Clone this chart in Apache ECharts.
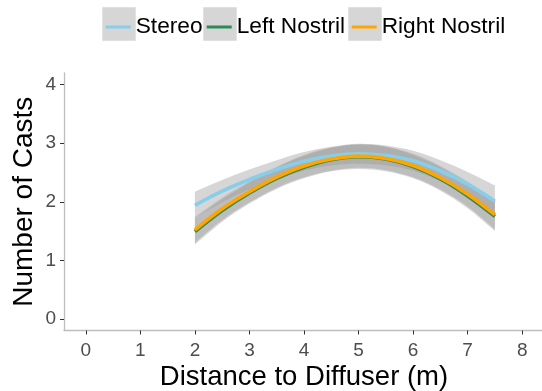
<!DOCTYPE html>
<html>
<head>
<meta charset="utf-8">
<script src="https://cdn.jsdelivr.net/npm/echarts@6/dist/echarts.min.js"></script>
<style>
html,body{margin:0;padding:0;background:#fff;}
#chart{width:542px;height:391px;}
</style>
</head>
<body>
<div id="chart"></div>
<script>
// Data
const distances = [2, 2.5, 3, 3.5, 4, 4.5, 5, 5.5, 6, 6.5, 7, 7.5];
const stereo       = [1.94, 2.18, 2.38, 2.55, 2.69, 2.78, 2.82, 2.79, 2.70, 2.53, 2.30, 2.01];
const leftNostril  = [1.49, 1.85, 2.15, 2.40, 2.59, 2.72, 2.77, 2.73, 2.60, 2.39, 2.10, 1.75];
const rightNostril = [1.52, 1.88, 2.17, 2.42, 2.61, 2.73, 2.78, 2.74, 2.62, 2.41, 2.13, 1.78];
// half-widths of the grey confidence ribbons
const stereoSE = [0.23, 0.19, 0.17, 0.16, 0.16, 0.16, 0.17, 0.17, 0.17, 0.18, 0.21, 0.27];
const leftSE   = [0.22, 0.19, 0.18, 0.18, 0.19, 0.20, 0.21, 0.21, 0.20, 0.20, 0.21, 0.25];
const rightSE  = [0.22, 0.19, 0.18, 0.18, 0.19, 0.20, 0.20, 0.20, 0.20, 0.20, 0.21, 0.25];
const xTicks = [0, 1, 2, 3, 4, 5, 6, 7, 8];
const yTicks = [0, 1, 2, 3, 4];
const seriesNames = ['Stereo', 'Left Nostril', 'Right Nostril'];

const FONT = 'Liberation Sans, Arial, sans-serif';
const groups = [
  {name: seriesNames[0], vals: stereo, se: stereoSE, color: '#87CEEB'},
  {name: seriesNames[1], vals: leftNostril, se: leftSE, color: '#2E8B57'},
  {name: seriesNames[2], vals: rightNostril, se: rightSE, color: '#FFA500'}
];
const SMOOTH = 0.35;

// Catmull-Rom style smooth path through pixel points
function smoothSeg(pts, moveFirst) {
  let d = (moveFirst ? 'M' : 'L') + pts[0][0] + ' ' + pts[0][1];
  for (let i = 0; i < pts.length - 1; i++) {
    const p0 = pts[Math.max(i - 1, 0)], p1 = pts[i], p2 = pts[i + 1], p3 = pts[Math.min(i + 2, pts.length - 1)];
    const t = 1 / 6;
    const c1 = [p1[0] + (p2[0] - p0[0]) * t, p1[1] + (p2[1] - p0[1]) * t];
    const c2 = [p2[0] - (p3[0] - p1[0]) * t, p2[1] - (p3[1] - p1[1]) * t];
    d += 'C' + c1[0] + ' ' + c1[1] + ' ' + c2[0] + ' ' + c2[1] + ' ' + p2[0] + ' ' + p2[1];
  }
  return d;
}

const series = [];
groups.forEach((g, k) => {
  series.push({
    name: g.name + ' band', type: 'custom', silent: true,
    coordinateSystem: 'cartesian2d',
    data: distances.map((x, i) => [x, g.vals[i] - g.se[i], g.vals[i] + g.se[i]]),
    encode: {x: 0, y: [1, 2]},
    renderItem: function (params, api) {
      if (params.dataIndex !== 0) return null;
      const up = [], lo = [];
      for (let i = 0; i < distances.length; i++) {
        up.push(api.coord([distances[i], g.vals[i] + g.se[i]]));
        lo.push(api.coord([distances[i], g.vals[i] - g.se[i]]));
      }
      lo.reverse();
      const d = smoothSeg(up, true) + smoothSeg(lo, false) + 'Z';
      return {type: 'path', shape: {pathData: d}, style: {fill: 'rgba(153,153,153,0.4)'}};
    }
  });
  series.push({
    name: g.name, type: 'line', symbol: 'none', smooth: SMOOTH,
    color: g.color, itemStyle: {color: g.color},
    lineStyle: {color: g.color, width: 3.6},
    data: distances.map((x, i) => [x, g.vals[i]])
  });
});

const legendLefts = [100.7, 201.7, 346.7];
const legends = seriesNames.map((n, i) => ({
  left: legendLefts[i], top: 9, orient: 'horizontal',
  data: [n], icon: 'rect', itemWidth: 25, itemHeight: 3,
  selectedMode: false, z: 10,
  textStyle: {fontSize: 22.7, color: '#000', fontFamily: FONT, lineHeight: 26}
}));

const chart = echarts.init(document.getElementById('chart'));
chart.setOption({
  animation: false,
  backgroundColor: '#fff',
  legend: legends,
  graphic: [
    {type: 'rect', shape: {x: 102.3, y: 7.3, width: 33.4, height: 33.4}, style: {fill: '#D6D6D6'}, z: 0},
    {type: 'rect', shape: {x: 203.3, y: 7.3, width: 33.4, height: 33.4}, style: {fill: '#D6D6D6'}, z: 0},
    {type: 'rect', shape: {x: 348.3, y: 7.3, width: 33.4, height: 33.4}, style: {fill: '#D6D6D6'}, z: 0}
  ],
  grid: {left: 64, top: 73, width: 480, height: 257.5, containLabel: false, outerBoundsMode: 'none'},
  xAxis: {
    type: 'value', min: -0.4, max: 8.4,
    name: 'Distance to Diffuser (m)', nameLocation: 'middle', nameGap: 33, nameMoveOverlap: false,
    nameTextStyle: {fontSize: 27.5, color: '#000', fontFamily: FONT},
    axisLine: {onZero: false, lineStyle: {color: '#BDBDBD', width: 1.3}},
    axisTick: {show: true, customValues: xTicks, length: 4, lineStyle: {color: '#333', width: 1}},
    axisLabel: {customValues: xTicks, color: '#4D4D4D', fontSize: 19, margin: 11, fontFamily: FONT},
    splitLine: {show: false}
  },
  yAxis: {
    type: 'value', min: -0.2, max: 4.2,
    name: 'Number of Casts', nameLocation: 'middle', nameGap: 26, nameRotate: 90, nameMoveOverlap: false,
    nameTextStyle: {fontSize: 28, color: '#000', fontFamily: FONT},
    axisLine: {show: true, onZero: false, lineStyle: {color: '#BDBDBD', width: 1.3}},
    axisTick: {show: true, customValues: yTicks, length: 4, lineStyle: {color: '#333', width: 1}},
    axisLabel: {customValues: yTicks, color: '#4D4D4D', fontSize: 19, margin: 8, fontFamily: FONT},
    splitLine: {show: false}
  },
  series: series
});
</script>
</body>
</html>
